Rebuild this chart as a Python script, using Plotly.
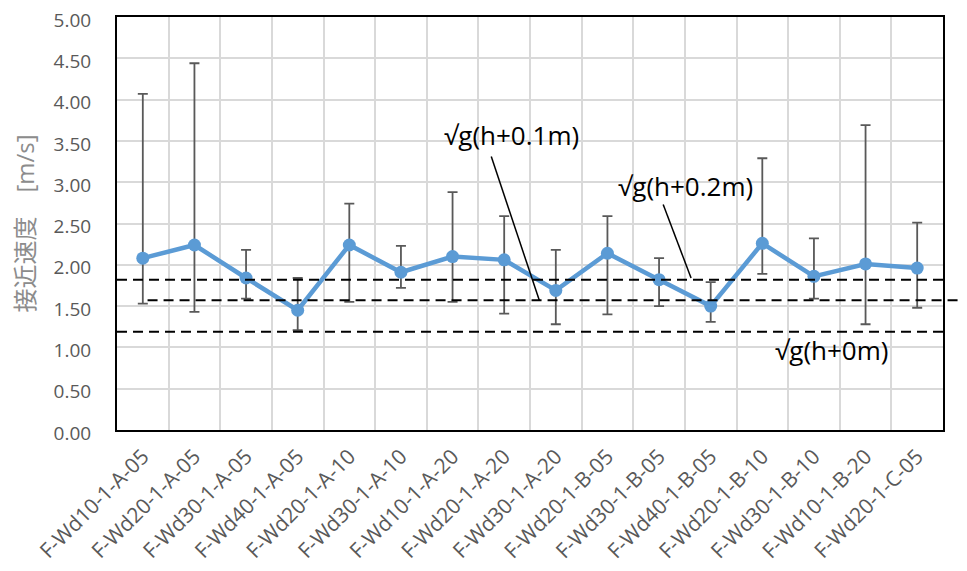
import plotly.graph_objects as go

categories = ["F-Wd10-1-A-05", "F-Wd20-1-A-05", "F-Wd30-1-A-05", "F-Wd40-1-A-05",
              "F-Wd20-1-A-10", "F-Wd30-1-A-10", "F-Wd10-1-A-20", "F-Wd20-1-A-20",
              "F-Wd30-1-A-20", "F-Wd20-1-B-05", "F-Wd30-1-B-05", "F-Wd40-1-B-05",
              "F-Wd20-1-B-10", "F-Wd30-1-B-10", "F-Wd10-1-B-20", "F-Wd20-1-C-05"]
mean_v = [2.08, 2.24, 1.84, 1.45, 2.24, 1.91, 2.10, 2.06,
          1.69, 2.14, 1.82, 1.50, 2.26, 1.86, 2.01, 1.96]
max_v = [4.07, 4.44, 2.18, 1.84, 2.74, 2.23, 2.88, 2.59,
         2.18, 2.59, 2.08, 1.79, 3.29, 2.32, 3.69, 2.51]
min_v = [1.53, 1.43, 1.59, 1.21, 1.55, 1.72, 1.55, 1.41,
         1.28, 1.40, 1.50, 1.31, 1.89, 1.59, 1.28, 1.48]
ref_labels = ["√g(h+0m)", "√g(h+0.1m)", "√g(h+0.2m)"]
ref_values = [1.19, 1.57, 1.82]

err_plus = [a - m for a, m in zip(max_v, mean_v)]
err_minus = [m - b for m, b in zip(mean_v, min_v)]

FONT = "'Open Sans', 'Noto Sans CJK JP', sans-serif"
GRAY = "#595959"

fig = go.Figure()
fig.add_trace(go.Scatter(
    x=categories, y=mean_v, mode="lines+markers",
    line=dict(color="#5B9BD5", width=4.5),
    marker=dict(color="#5B9BD5", size=13),
    error_y=dict(type="data", symmetric=False, array=err_plus, arrayminus=err_minus,
                 color=GRAY, thickness=1.8, width=5),
    showlegend=False,
))

# reference dashed lines
dash = "10px,6px"
fig.add_shape(type="line", xref="paper", yref="y", x0=0, x1=1, y0=ref_values[0], y1=ref_values[0],
              line=dict(color="black", width=2, dash=dash))
fig.add_shape(type="line", xref="paper", yref="y", x0=0.037, x1=1.03, y0=ref_values[1], y1=ref_values[1],
              line=dict(color="black", width=2, dash=dash))
fig.add_shape(type="line", xref="paper", yref="y", x0=0, x1=1, y0=ref_values[2], y1=ref_values[2],
              line=dict(color="black", width=2, dash=dash))

# leader lines
fig.add_shape(type="line", xref="x", yref="y", x0=6.75, y0=3.31, x1=7.68, y1=ref_values[1],
              line=dict(color="black", width=1.5))
fig.add_shape(type="line", xref="x", yref="y", x0=10.08, y0=2.73, x1=10.62, y1=ref_values[2] + 0.02,
              line=dict(color="black", width=1.5))

afont = dict(family=FONT, size=26, color="black")
fig.add_annotation(x=7.15, y=3.57, text=ref_labels[1], showarrow=False, font=afont)
fig.add_annotation(x=10.51, y=2.96, text=ref_labels[2], showarrow=False, font=afont)
fig.add_annotation(x=13.34, y=0.965, text=ref_labels[0], showarrow=False, font=afont)

# page body has an 8px margin; figure sized to fit the viewport
fig.update_layout(
    width=959, height=563,
    margin=dict(l=109, r=24, t=9, b=141),
    paper_bgcolor="white", plot_bgcolor="white",
    font=dict(family=FONT, color=GRAY, size=19),
    xaxis=dict(
        type="category", range=[-0.5, 15.5], tickangle=-45, automargin=False,
        tickson="boundaries", showgrid=True, gridcolor="#D9D9D9", gridwidth=1.5,
        showline=True, linecolor="black", linewidth=2, mirror=True,
        ticks="", tickfont=dict(size=21, color=GRAY, family=FONT),
        ticklabelstandoff=4,
    ),
    yaxis=dict(
        range=[0, 5], dtick=0.5, tickformat=".2f", automargin=False,
        showgrid=True, gridcolor="#D9D9D9", gridwidth=1.5,
        showline=True, linecolor="black", linewidth=2, mirror=True,
        ticks="", tickfont=dict(size=19, color=GRAY, family=FONT),
        ticklabelstandoff=20, zeroline=False, ticklabeloverflow="allow",
        ticklabelshift=3,
        title=dict(text="接近速度　[m/s]", font=dict(size=24, color="#8C8C8C", family=FONT), standoff=19),
    ),
)

fig.write_html("out.html")
